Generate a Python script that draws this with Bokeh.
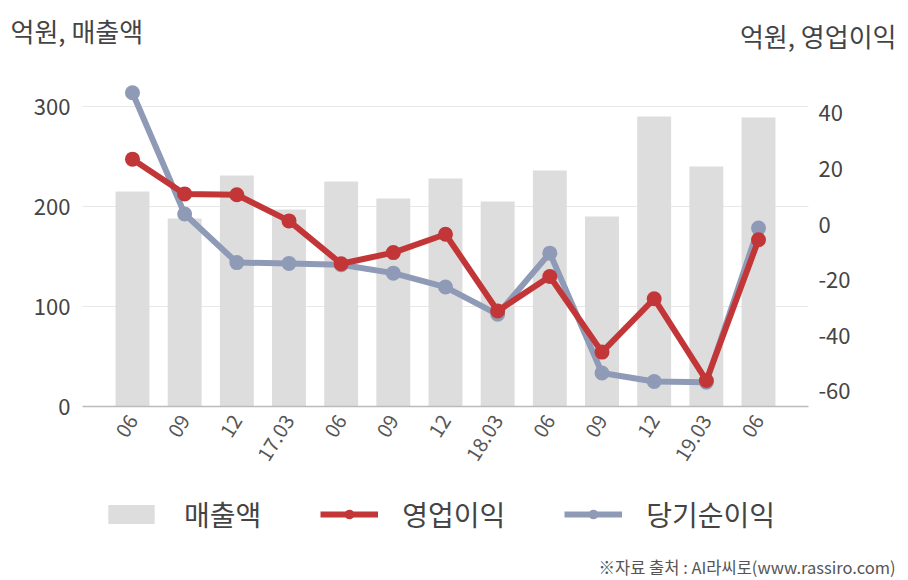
import math
from bokeh.plotting import figure
from bokeh.models import (Range1d, LinearAxis, FixedTicker, Legend, LegendItem, Label)
from bokeh.embed import file_html
from bokeh.resources import INLINE

categories = ["06", "09", "12", "17.03", "06", "09", "12", "18.03", "06", "09", "12", "19.03", "06"]
revenue = [215, 188, 231, 197, 225, 208, 228, 205, 236, 190, 290, 240, 289]
op_profit = [23.5, 11.0, 10.7, 1.3, -14.1, -10.1, -3.5, -31.1, -18.7, -45.9, -26.7, -56.1, -5.5]
net_profit = [47.4, 3.8, -13.7, -14.0, -14.5, -17.5, -22.5, -32.3, -10.3, -53.4, -56.5, -56.7, -1.3]
left_ticks = [0, 100, 200, 300]
grid_ticks = [100, 200, 300]
right_ticks = [-60, -40, -20, 0, 20, 40]

FONT = "Noto Sans CJK KR"
TXT = "#444444"
BAR = "#dddddd"
RED = "#c33638"
BLUE = "#8f9bb6"

W, H = 908, 580
xs = list(range(len(categories)))
X_LO, X_HI = -0.958, len(categories) - 1 + 0.958       # plot-area extent in x data units
PX = 52.17                                             # px per category
x_range = Range1d(X_LO - 82 / PX, X_LO - 82 / PX + W / PX)
y_range = Range1d(-174, 406)                            # left axis: 1 px per unit
r_range = Range1d(-(H - 224) / 2.78, 224 / 2.78)        # right axis: 2.78 px per unit

p = figure(width=W, height=H, output_backend="svg", toolbar_location=None,
           x_range=x_range, y_range=y_range,
           min_border_left=0, min_border_right=0, min_border_top=0, min_border_bottom=0)
p.extra_y_ranges = {"r": r_range}
p.outline_line_color = None
p.background_fill_color = "white"
p.border_fill_color = "white"

# grid lines across the plot area only
p.xgrid.grid_line_color = None
g = p.ygrid[0]
g.ticker = FixedTicker(ticks=grid_ticks)
g.grid_line_color = "#e8e8e8"
if "cross_bounds" in g.properties():
    g.cross_bounds = (X_LO, X_HI)
else:
    g.grid_line_color = None
    p.segment(x0=[X_LO] * len(grid_ticks), x1=[X_HI] * len(grid_ticks),
              y0=grid_ticks, y1=grid_ticks, line_color="#e8e8e8", line_width=1)

bars = p.vbar(x=xs, top=revenue, width=0.65, fill_color=BAR, line_color=None)
bl = p.line(xs, net_profit, y_range_name="r", line_color=BLUE, line_width=6)
bm = p.scatter(xs, net_profit, y_range_name="r", size=15, fill_color=BLUE, line_color=None)
rl = p.line(xs, op_profit, y_range_name="r", line_color=RED, line_width=6)
rm = p.scatter(xs, op_profit, y_range_name="r", size=15, fill_color=RED, line_color=None)

# x axis at y = 0
xa = p.xaxis[0]
xa.fixed_location = 0
xa.bounds = (X_LO, X_HI)
xa.ticker = FixedTicker(ticks=xs)
xa.major_label_overrides = {i: c for i, c in enumerate(categories)}
xa.major_label_orientation = math.radians(58)
xa.major_tick_line_color = None
xa.minor_tick_line_color = None
xa.axis_line_color = "#bbbbbb"
xa.axis_line_width = 1.5
xa.major_label_text_font = FONT
xa.major_label_text_font_size = "20px"
xa.major_label_text_color = "#555555"
xa.major_label_standoff = 4

ya = p.yaxis[0]
ya.fixed_location = X_LO
ya.ticker = FixedTicker(ticks=left_ticks)
ya.axis_line_color = None
ya.major_tick_line_color = None
ya.minor_tick_line_color = None
ya.major_label_text_font = FONT
ya.major_label_text_font_size = "22px"
ya.major_label_text_color = TXT
ya.major_label_standoff = 6

ra = LinearAxis(y_range_name="r", ticker=FixedTicker(ticks=right_ticks), fixed_location=X_HI)
ra.major_label_overrides = {t: str(t) for t in right_ticks}
ra.axis_line_color = None
ra.major_tick_line_color = None
ra.minor_tick_line_color = None
ra.major_label_text_font = FONT
ra.major_label_text_font_size = "22px"
ra.major_label_text_color = TXT
ra.major_label_standoff = 4
p.add_layout(ra, "right")

legend = Legend(items=[
    LegendItem(label="매출액", renderers=[bars]),
    LegendItem(label="영업이익", renderers=[rl, rm]),
    LegendItem(label="당기순이익", renderers=[bl, bm]),
], orientation="horizontal", location=(102, 46),
    label_text_font=FONT, label_text_font_size="28px", label_text_color=TXT,
    glyph_width=58, glyph_height=24, label_standoff=24, spacing=59,
    border_line_color=None, background_fill_alpha=0, padding=0, margin=0)
p.add_layout(legend, "center")

p.add_layout(Label(x=10, y=H - 30, x_units="screen", y_units="screen", text="억원, 매출액",
                   text_font=FONT, text_font_size="26px", text_color=TXT, text_baseline="middle"))
p.add_layout(Label(x=896, y=H - 35, x_units="screen", y_units="screen", text="억원, 영업이익",
                   text_font=FONT, text_font_size="26px", text_color=TXT, text_baseline="middle",
                   text_align="right"))
p.add_layout(Label(x=895, y=H - 566, x_units="screen", y_units="screen",
                   text="※자료 출처 : AI라씨로(www.rassiro.com)",
                   text_font=FONT, text_font_size="16.5px", text_color="#555555",
                   text_baseline="middle", text_align="right"))

open("out.html", "w").write(file_html(p, INLINE))
